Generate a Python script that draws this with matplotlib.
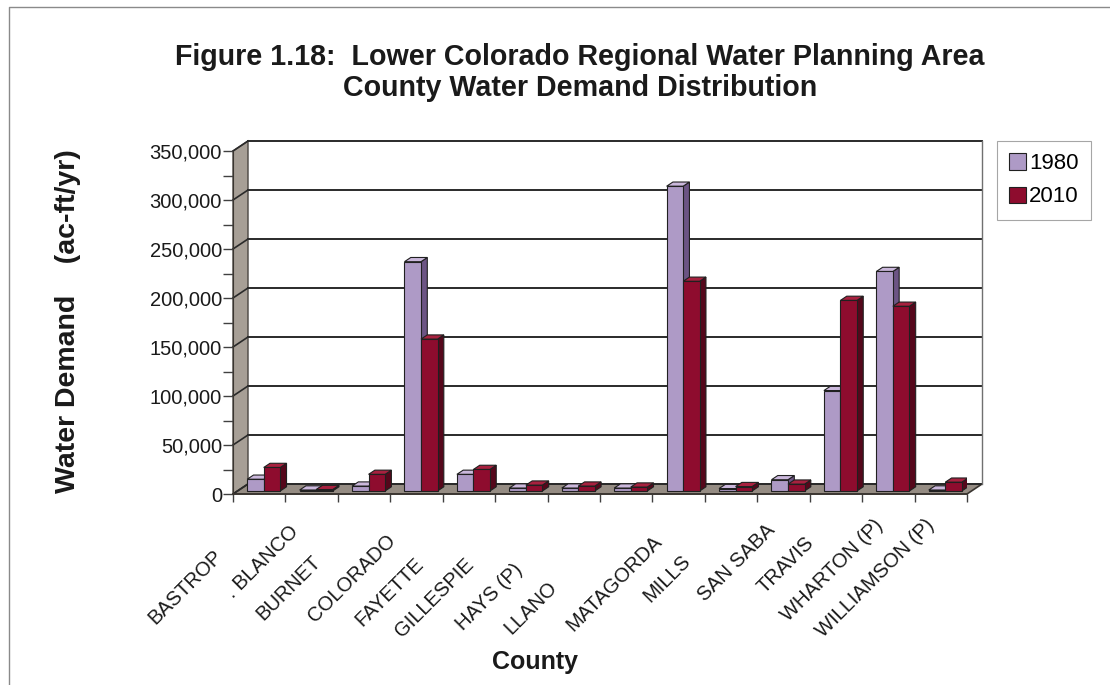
import matplotlib.pyplot as plt
from matplotlib.patches import Polygon
from matplotlib.lines import Line2D
import numpy as np

plt.rcParams['font.family'] = ['Liberation Sans', 'DejaVu Sans']

# County water demand, ac-ft/yr
counties = ['BASTROP', '. BLANCO', 'BURNET', 'COLORADO', 'FAYETTE', 'GILLESPIE',
            'HAYS (P)', 'LLANO', 'MATAGORDA', 'MILLS', 'SAN SABA', 'TRAVIS',
            'WHARTON (P)', 'WILLIAMSON (P)']
demand_1980 = [12000, 1000, 5000, 234000, 17000, 3000, 3000, 3000,
               311000, 2500, 11500, 102500, 224000, 1000]
demand_2010 = [24000, 1500, 17000, 155000, 22000, 6000, 5000, 4000,
               214000, 4500, 7000, 194500, 188500, 9000]
years = ['1980', '2010']
yticks = list(range(0, 350001, 50000))

# face colours: front, side, top
colors_1980 = ('#ae9ac6', '#6c5484', '#cbb8dc')
colors_2010 = ('#8e0c2e', '#55071b', '#a8213f')

W, H = 1110, 685
fig = plt.figure(figsize=(W / 100, H / 100), dpi=100)
ax = fig.add_axes([233 / W, 1 - 494 / H, (967 - 233) / W, (494 - 151) / H])
n = len(counties)
ax.set_xlim(-0.5, n - 0.5)
ax.set_ylim(0, 350000)
ax.patch.set_visible(False)

# depth of the floor in data units (about 15 px right, 10 px up)
DX = 15 / (734 / n)
DY = 10 * 350000 / 343
x0, x1 = -0.5, n - 0.5
ymax = yticks[-1]

# left wall and floor
ax.add_patch(Polygon([(x0, 0), (x0, ymax), (x0 + DX, ymax + DY), (x0 + DX, DY)],
                     closed=True, facecolor='#a79f96', edgecolor='#4a4540',
                     lw=1, zorder=1, clip_on=False))
ax.add_patch(Polygon([(x0, 0), (x1, 0), (x1 + DX, DY), (x0 + DX, DY)],
                     closed=True, facecolor='#958c83', edgecolor='#3a3530',
                     lw=1.2, zorder=1, clip_on=False))
# back wall gridlines and right edge
for v in yticks:
    ax.plot([x0 + DX, x1 + DX], [v + DY, v + DY], color='#2a2a2a', lw=1.4,
            zorder=1.5, clip_on=False)
    ax.plot([x0, x0 + DX], [v, v + DY], color='#2a2a2a', lw=1.2,
            zorder=1.5, clip_on=False)
ax.plot([x1 + DX, x1 + DX], [DY, ymax + DY], color='#707070', lw=1,
        zorder=1.5, clip_on=False)

# bars drawn as boxes standing on the floor
f0, f1 = 0.3, 0.72
bw = 0.315
x = np.arange(n)
fdx, fdy = f0 * DX, f0 * DY
ddx, ddy = (f1 - f0) * DX, (f1 - f0) * DY


def draw_boxes(lefts, values, cols, z, label):
    bars = ax.bar(lefts + fdx, values, width=bw, bottom=fdy, align='edge',
                  color=cols[0], edgecolor='#202020', lw=0.8, zorder=z + 0.2,
                  label=label)
    for xl, v in zip(lefts + fdx, values):
        xr = xl + bw
        top = fdy + v
        ax.add_patch(Polygon([(xr, fdy), (xr, top), (xr + ddx, top + ddy),
                              (xr + ddx, fdy + ddy)], closed=True,
                             facecolor=cols[1], edgecolor='#202020', lw=0.8,
                             zorder=z))
        ax.add_patch(Polygon([(xl, top), (xr, top), (xr + ddx, top + ddy),
                              (xl + ddx, top + ddy)], closed=True,
                             facecolor=cols[2], edgecolor='#202020', lw=0.8,
                             zorder=z))
    return bars


b1 = draw_boxes(x - bw, np.array(demand_1980), colors_1980, 3, years[0])
b2 = draw_boxes(x.astype(float), np.array(demand_2010), colors_2010, 4, years[1])

# axes, ticks
for s in ['top', 'right']:
    ax.spines[s].set_visible(False)
ax.spines['left'].set_color('#3a3530')
ax.spines['bottom'].set_color('#3a3530')
ax.spines['bottom'].set_linewidth(1.2)
ax.set_yticks(yticks)
ax.set_yticklabels([f'{v:,}' for v in yticks])
ax.set_yticks(range(25000, 350000, 50000), minor=True)
ax.tick_params(axis='y', which='both', length=7, width=1, color='#404040',
               labelsize=14.5, pad=1, labelcolor='#1a1a1a')
ax.set_xticks(np.arange(x0, x1 + 0.01, 1))
ax.set_xticklabels([])
ax.tick_params(axis='x', which='major', length=6, width=1, color='#404040')

# rotated county names
label_off = [(-74, -93), (-49, -68), (-75, -94), (-65, -84), (-79, -98),
             (-87, -104), (-84, -103), (-95, -114), (-64, -89), (-64, -85),
             (-47, -69), (-50, -71), (-56, -76), (-65, -84)]
for i, (name, (ox, oy)) in enumerate(zip(counties, label_off)):
    ax.annotate(name, xy=(i, 0), xytext=(ox, oy), textcoords='offset pixels',
                rotation=45, ha='center', va='center', fontsize=14.5,
                color='#1a1a1a', annotation_clip=False)

# titles
fig.text(580 / W, 1 - 57 / H, 'Figure 1.18:  Lower Colorado Regional Water Planning Area',
         ha='center', va='center', fontsize=20.6, fontweight='bold', color='#1a1a1a')
fig.text(580 / W, 1 - 88 / H, 'County Water Demand Distribution',
         ha='center', va='center', fontsize=20.6, fontweight='bold', color='#1a1a1a')
fig.text(68 / W, 1 - 321 / H, 'Water Demand    (ac-ft/yr)', rotation=90,
         ha='center', va='center', fontsize=20.5, fontweight='bold', color='#1a1a1a')
fig.text(535 / W, 1 - 662 / H, 'County', ha='center', va='center',
         fontsize=18, fontweight='bold', color='#1a1a1a')

leg = fig.legend(handles=[b1, b2], labels=years, loc='upper left',
                 bbox_to_anchor=(997 / W, 1 - 141 / H), fontsize=16,
                 frameon=True, fancybox=False, handlelength=0.75,
                 handleheight=0.75, handletextpad=0.15, labelspacing=0.55,
                 borderpad=0.55, borderaxespad=0)
leg.get_frame().set_edgecolor('#909090')
leg.get_frame().set_linewidth(0.8)

# outer frame (only top and left edges visible)
fig.add_artist(Line2D([9 / W, 9 / W, 1], [0, 1 - 7 / H, 1 - 7 / H],
                      transform=fig.transFigure, color='#8a8a8a', lw=1))

fig.savefig('out.png', dpi=100, facecolor='white')
